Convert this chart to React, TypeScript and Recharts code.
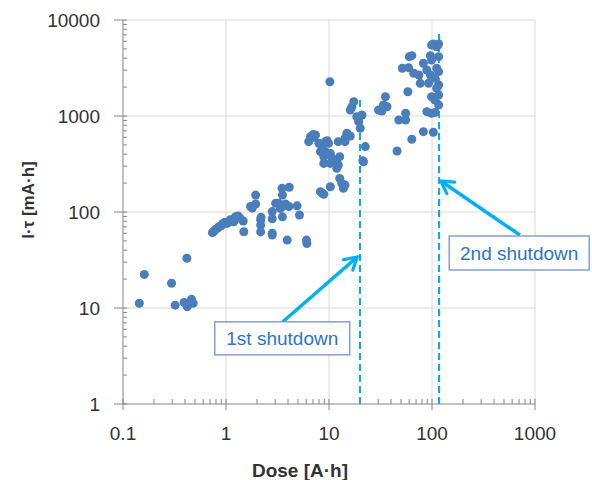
import { ScatterChart, Scatter, XAxis, YAxis, CartesianGrid, ReferenceLine, ReferenceDot } from "recharts"

// dose [A·h] and I·tau [mA·h]
const doseValues = [
  0.144, 0.161, 0.296, 0.321, 0.417, 0.392, 0.42, 0.462, 0.48,
  0.738, 0.76, 0.794, 0.83, 0.855, 0.9, 0.923, 0.97, 0.994, 1.03, 1.07, 1.1, 1.15, 1.19, 1.2, 1.24, 1.28, 1.31, 1.37, 1.47, 1.49,
  1.73, 1.8, 1.94, 1.94, 2.17, 2.17, 2.17, 2.19, 2.81, 2.81, 2.81, 2.81, 3.03, 3.26, 3.37, 3.5, 3.53, 3.53, 3.53, 3.78, 4.08, 4.11, 3.93, 4.9, 5.17, 6.04, 6.1,
  6.6, 6.35, 7.0, 7.4, 7.97, 8.6, 9.2, 9.9, 8.26, 9.2, 10.3, 10.7, 8.9, 10.3, 11.9, 12.3, 12.7, 11.9, 12.3, 14.3, 14.9, 16.1, 14.3, 18.6, 19.4, 20.1, 20.9, 19.4, 22.5, 21.6, 21.3, 12.7, 13.3, 14.3, 13.8, 13.8, 10.3, 8.26, 8.6, 8.9, 16.1, 16.7, 17.4, 10.2, 7.1, 9.6, 8.9,
  30.3, 32.6, 33.8, 35.3, 36.6, 45.8, 47.6, 55.5, 55.5, 58.3, 51.5, 59.2, 60.2, 63.7, 63.7, 66.5, 74.7, 76.9, 82.5, 82.5, 89, 89, 92.7, 96.5, 96.5, 99, 99, 99, 99, 103, 103, 107, 107, 107, 111, 111, 111, 116, 116, 116, 116, 116, 116,
]
const itauValues = [
  11.2, 22.4, 18.1, 10.7, 33, 11.4, 10.3, 12.3, 11.2,
  60.9, 63, 66, 68, 70.3, 72, 75, 78, 77.4, 76, 79.2, 83, 81.2, 79, 85, 89.3, 88, 90.8, 86, 80.6, 62.3,
  114, 110, 150, 121, 82.5, 73, 62, 88, 85, 101, 60, 57.5, 123, 123, 109, 177, 150, 114, 89, 121, 114, 181, 51, 116, 93, 51, 47,
  609, 540, 640, 634, 519, 479, 540, 519, 425, 425, 408, 362, 321, 321, 348, 309, 377, 285, 540, 540, 661, 619, 586, 984, 873, 745, 1024, 946, 480, 334, 342, 224, 199, 191, 177, 183, 183, 163, 157, 153, 1155, 1250, 1410, 2277, 600, 553, 377,
  1155, 1128, 1302, 1587, 1250, 432, 908, 908, 1067, 1791, 3140, 3186, 4150, 4250, 572, 2786, 2673, 2189, 3540, 687, 3016, 1109, 2189, 4250, 2673, 3830, 5480, 1587, 1067, 5623, 677, 2470, 1468, 1090, 5270, 1944, 3140, 5623, 4150, 1656, 1302, 2103, 2900,
]

const xMajorTicks = [0.1, 1, 10, 100, 1000]
const yMajorTicks = [1, 10, 100, 1000, 10000]

// shutdown markers and their callouts
const shutdownDose = [20, 117]
const shutdownTop = [1540, 7500]
const shutdownText = ["1st shutdown", "2nd shutdown"]
const arrowFrom = [{ x: 3.54, y: 7.15 }, { x: 713, y: 57.6 }]
const arrowTo = [{ x: 18.8, y: 34 }, { x: 122, y: 210 }]
const boxAt = [{ x: 3.52, y: 4.83 }, { x: 702, y: 37.4 }]
const boxSize = [{ w: 135, h: 33 }, { w: 140, h: 34 }]

const points = doseValues.map((d, i) => ({ dose: d, itau: itauValues[i] }))

const withMinors = (majors: number[]) =>
  majors.flatMap((m, i) => (i === majors.length - 1 ? [m] : [1, 2, 3, 4, 5, 6, 7, 8, 9].map((k) => +(m * k).toPrecision(3))))

const isMajor = (v: number) => Math.abs(Math.log10(v) - Math.round(Math.log10(v))) < 1e-6

const AXIS = "#868686"
const FONT = "'Liberation Sans', Arial, sans-serif"
const BLUE = "#00b0f0"

function XTick({ x, y, payload }: any) {
  const major = isMajor(payload.value)
  return (
    <g>
      <line x1={x} x2={x} y1={y - 5} y2={major ? y + 6 : y} stroke={AXIS} />
      {major && (
        <text x={x} y={y + 36} textAnchor="middle" fontSize={19} fontFamily={FONT} fill="#333">
          {String(payload.value)}
        </text>
      )}
    </g>
  )
}

function YTick({ x, y, payload }: any) {
  const major = isMajor(payload.value)
  return (
    <g>
      <line x1={major ? x - 9 : x} x2={x + 4} y1={y} y2={y} stroke={AXIS} />
      {major && (
        <text x={x - 23} y={y + 7} textAnchor="end" fontSize={19} fontFamily={FONT} fill="#333">
          {String(payload.value)}
        </text>
      )}
    </g>
  )
}

const calloutBox = (i: number) => (p: any) => (
  <g>
    <rect
      x={p.cx - boxSize[i].w / 2}
      y={p.cy - boxSize[i].h / 2}
      width={boxSize[i].w}
      height={boxSize[i].h}
      fill="#fff"
      stroke="#6f94cc"
      strokeWidth={1.3}
    />
    <text x={p.cx} y={p.cy + 7} textAnchor="middle" fontSize={19} fontFamily={FONT} fill="#2e75c6">
      {shutdownText[i]}
    </text>
  </g>
)

export default function App() {
  return (
    <div style={{ position: "absolute", left: 0, top: 0 }}>
      <ScatterChart width={592} height={480} margin={{ top: 20, right: 57, bottom: 0, left: 0 }}>
        <defs>
          <marker id="chev" viewBox="0 0 18 18" refX={15} refY={9} markerWidth={18} markerHeight={18} markerUnits="userSpaceOnUse" orient="auto">
            <path d="M3,2 L15,9 L3,16" fill="none" stroke={BLUE} strokeWidth={3.2} strokeLinecap="round" />
          </marker>
        </defs>
        <CartesianGrid stroke="#d9d9d9" verticalValues={[1, 10, 100, 1000]} horizontalValues={[10, 100, 1000, 10000]} />
        <XAxis
          dataKey="dose"
          type="number"
          scale="log"
          domain={[0.1, 1000]}
          allowDataOverflow
          ticks={withMinors(xMajorTicks)}
          interval={0}
          tickSize={0}
          tickMargin={0}
          tickLine={false}
          tick={<XTick />}
          axisLine={{ stroke: AXIS }}
          height={76}
          label={{
            content: ({ viewBox }: any) => (
              <text x={viewBox.x + viewBox.width / 2 - 29} y={viewBox.y + 73} textAnchor="middle" fontSize={19} fontWeight="bold" fontFamily={FONT} fill="#333">
                Dose [A·h]
              </text>
            ),
          }}
        />
        <YAxis
          dataKey="itau"
          type="number"
          scale="log"
          domain={[1, 10000]}
          allowDataOverflow
          ticks={withMinors(yMajorTicks)}
          interval={0}
          tickSize={0}
          tickMargin={0}
          tickLine={false}
          tick={<YTick />}
          axisLine={{ stroke: AXIS }}
          width={123}
          label={{
            content: ({ viewBox }: any) => {
              const cx = viewBox.x + 28
              const cy = viewBox.y + viewBox.height / 2 - 12
              return (
                <text x={cx} y={cy} transform={`rotate(-90 ${cx} ${cy})`} dy={6} textAnchor="middle" fontSize={17} fontWeight="bold" fontFamily={FONT} fill="#333">
                  I·τ [mA·h]
                </text>
              )
            },
          }}
        />
        <Scatter
          data={points}
          isAnimationActive={false}
          shape={(p: any) => <circle cx={p.cx} cy={p.cy} r={4.5} fill="#4a7ebb" />}
        />
        {shutdownDose.map((d, i) => (
          <ReferenceLine
            key={"s" + i}
            segment={[{ x: d, y: 1 }, { x: d, y: shutdownTop[i] }]}
            stroke={BLUE}
            strokeWidth={2}
            strokeDasharray="7 4"
          />
        ))}
        {arrowFrom.map((a, i) => (
          <ReferenceLine
            key={"a" + i}
            segment={[a, arrowTo[i]]}
            stroke={BLUE}
            strokeWidth={3.5}
            markerEnd="url(#chev)"
          />
        ))}
        {boxAt.map((b, i) => (
          <ReferenceDot key={"b" + i} x={b.x} y={b.y} shape={calloutBox(i)} />
        ))}
      </ScatterChart>
    </div>
  )
}
